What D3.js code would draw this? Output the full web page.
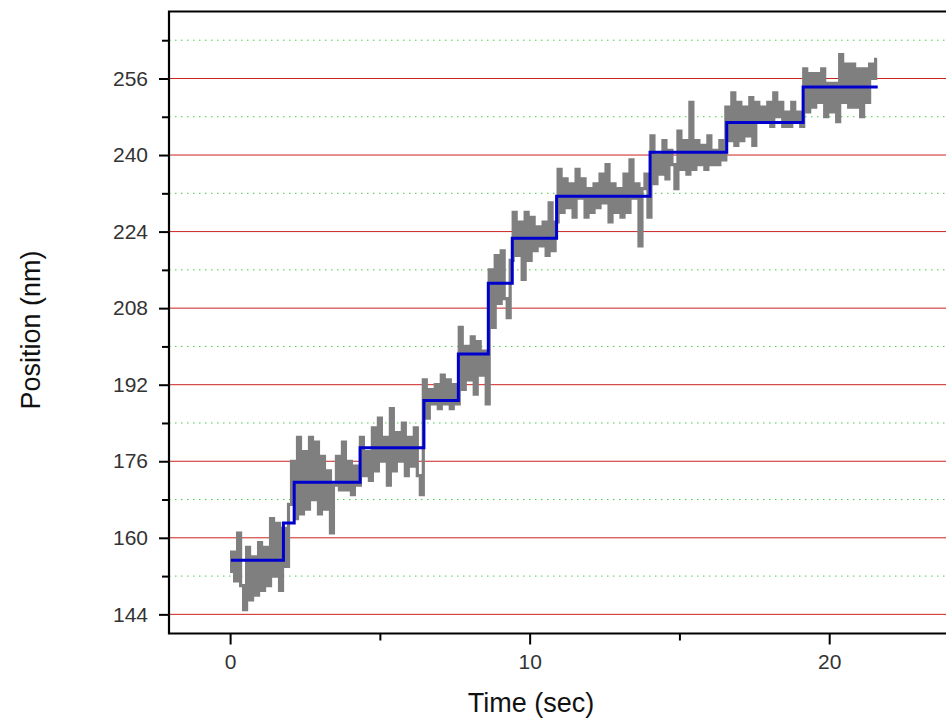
<!DOCTYPE html>
<html>
<head>
<meta charset="utf-8">
<script src="https://cdn.jsdelivr.net/npm/d3@7"></script>
<style>
  body { margin: 0; background: #fff; }
  svg { display: block; font-family: Arial, "Liberation Sans", sans-serif; }
</style>
</head>
<body>
<svg id="chart" width="946" height="721"></svg>
<script>
var width = 946, height = 721

// raw trace, sampled every 0.1 sec starting at t = 0
var traceStart = 0, traceDt = 0.1
var trace = [
  153,157,151,161,150,145,158,147,156,148, 159,149,158,150,164,152,163,149,162,154,
  167,176,164,181,165,178,166,181,168,180, 165,177,166,174,161,171,177,170,180,170,
  176,169,175,171,181,173,178,172,183,174, 185,176,181,171,187,174,182,176,184,173,
  181,175,183,173,169,193,185,191,188,192, 187,194,188,193,187,192,188,204,191,200,
  193,202,190,201,194,199,188,216,204,219, 209,220,210,206,218,228,219,226,214,228,
  218,227,220,225,221,226,219,230,220,226, 237,228,235,229,234,227,237,231,235,227,
  233,228,234,229,236,230,238,226,234,228, 233,227,236,228,239,231,234,221,233,236,
  227,244,234,240,236,243,235,241,238,233, 245,237,243,236,251,237,243,238,242,237,
  244,238,241,238,243,239,250,243,253,242, 251,243,250,244,252,242,251,247,250,247,
  251,246,253,248,251,246,249,246,251,247, 249,246,258,249,257,250,257,251,258,248,
  255,249,255,247,261,251,259,250,259,250, 258,248,258,251,259,256,260
]

// fitted steps: start time of each plateau and its level
var stepTimes = [0.03, 1.78, 2.14, 4.34, 6.47, 7.62, 8.62, 9.42, 10.9, 14.02, 16.58, 19.13]
var stepLevels = [155.3, 163.1, 171.6, 178.8, 188.7, 198.4, 213.2, 222.6, 231.4, 240.6, 246.8, 254.2]
var stepEnd = 21.62

var xTicks = [0, 10, 20]
var xMinor = [5, 15]
var yTicks = [144, 160, 176, 192, 208, 224, 240, 256]
var yMinor = [152, 168, 184, 200, 216, 232, 248, 264]

var plotLeft = 169, plotTop = 11.5, plotBottom = 633.5

var x = d3.scaleLinear().domain([-2.04, 24]).range([plotLeft, 949])
var y = d3.scaleLinear().domain([140, 270]).range([plotBottom, plotTop])

var svg = d3.select('#chart')

// grid lines
svg.append('g').selectAll('line')
  .data(yMinor)
  .join('line')
  .attr('x1', plotLeft).attr('x2', width)
  .attr('y1', function(d) { return y(d) })
  .attr('y2', function(d) { return y(d) })
  .attr('stroke', '#44cc44')
  .attr('stroke-width', 1)
  .attr('stroke-dasharray', '1.5,4.5')

svg.append('g').selectAll('line')
  .data(yTicks)
  .join('line')
  .attr('x1', plotLeft).attr('x2', width)
  .attr('y1', function(d) { return y(d) })
  .attr('y2', function(d) { return y(d) })
  .attr('stroke', '#cc2222')
  .attr('stroke-width', 1)

// noisy trace, drawn as a step line so it reads as vertical bars
var tracePts = trace.map(function(v, i) { return [traceStart + i * traceDt, v] })
svg.append('path')
  .datum(tracePts)
  .attr('fill', 'none')
  .attr('stroke', '#7f7f7f')
  .attr('stroke-width', 3.2)
  .attr('d', d3.line()
    .x(function(d) { return x(d[0]) })
    .y(function(d) { return y(d[1]) })
    .curve(d3.curveStep))

// step fit
var stepPts = stepTimes.map(function(t, i) { return [t, stepLevels[i]] })
stepPts.push([stepEnd, stepLevels[stepLevels.length - 1]])
svg.append('path')
  .datum(stepPts)
  .attr('fill', 'none')
  .attr('stroke', '#0000cc')
  .attr('stroke-width', 3)
  .attr('d', d3.line()
    .x(function(d) { return x(d[0]) })
    .y(function(d) { return y(d[1]) })
    .curve(d3.curveStepAfter))

// axes
svg.append('g')
  .attr('transform', 'translate(' + plotLeft + ',0)')
  .call(d3.axisLeft(y).tickValues(yTicks).tickSize(10).tickPadding(11))
svg.append('g')
  .attr('transform', 'translate(' + plotLeft + ',0)')
  .call(d3.axisLeft(y).tickValues(yMinor).tickSize(7).tickFormat(''))
svg.append('g')
  .attr('transform', 'translate(0,' + plotBottom + ')')
  .call(d3.axisBottom(x).tickValues(xTicks).tickSize(11).tickPadding(10))
svg.append('g')
  .attr('transform', 'translate(0,' + plotBottom + ')')
  .call(d3.axisBottom(x).tickValues(xMinor).tickSize(7).tickFormat(''))

svg.selectAll('.domain').remove()
svg.selectAll('.tick line').attr('stroke', '#000').attr('stroke-width', 2)
svg.selectAll('.tick text')
  .attr('font-size', 21)
  .attr('fill', '#333')
  .attr('font-family', 'Arial, "Liberation Sans", sans-serif')

// frame: left, bottom, top
svg.append('path')
  .attr('d', 'M' + width + ',' + plotTop + 'H' + plotLeft + 'V' + plotBottom + 'H' + width)
  .attr('fill', 'none')
  .attr('stroke', '#000')
  .attr('stroke-width', 2.2)

// titles
svg.append('text')
  .attr('x', 531).attr('y', 712)
  .attr('text-anchor', 'middle')
  .attr('font-size', 27)
  .attr('fill', '#111')
  .text('Time (sec)')

svg.append('text')
  .attr('transform', 'translate(40,330) rotate(-90)')
  .attr('text-anchor', 'middle')
  .attr('font-size', 27)
  .attr('fill', '#111')
  .text('Position (nm)')
</script>
</body>
</html>
